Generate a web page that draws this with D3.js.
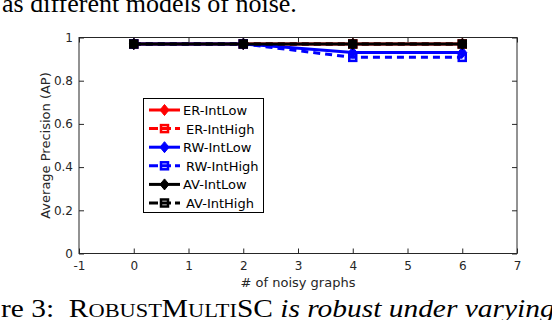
<!DOCTYPE html>
<html>
<head>
<meta charset="utf-8">
<script src="https://cdn.jsdelivr.net/npm/d3@7"></script>
<style>
  body { margin: 0; background: #fff; overflow: hidden; }
  svg { display: block; }
  .tick text { font-family: "DejaVu Sans", sans-serif; font-size: 12px; fill: #262626; }
  .tick line { stroke: #262626; }
</style>
</head>
<body>
<div class="chart"></div>
<script>
// data
var xVals = [0, 2, 4, 6];
var erLow  = [0.97, 0.97, 0.97, 0.97];
var erHigh = [0.97, 0.97, 0.97, 0.97];
var rwLow  = [0.97, 0.97, 0.93, 0.93];
var rwHigh = [0.97, 0.97, 0.908, 0.908];
var avLow  = [0.97, 0.97, 0.97, 0.97];
var avHigh = [0.97, 0.97, 0.97, 0.97];
var xTicks = [-1, 0, 1, 2, 3, 4, 5, 6, 7];
var yTicks = [0, 0.2, 0.4, 0.6, 0.8, 1];
var names  = ['ER-IntLow', 'ER-IntHigh', 'RW-IntLow', 'RW-IntHigh', 'AV-IntLow', 'AV-IntHigh'];

var series = [
  { name: names[0], vals: erLow,  color: '#ff0000', dash: null,  marker: 'diamond' },
  { name: names[1], vals: erHigh, color: '#ff0000', dash: '7,5', marker: 'square' },
  { name: names[2], vals: rwLow,  color: '#0000ff', dash: null,  marker: 'diamond' },
  { name: names[3], vals: rwHigh, color: '#0000ff', dash: '7,5', marker: 'square' },
  { name: names[4], vals: avLow,  color: '#000000', dash: null,  marker: 'diamond' },
  { name: names[5], vals: avHigh, color: '#000000', dash: '7,5', marker: 'square' }
];

var W = 552, H = 320;
var mL = 79, mR = 517, mT = 37.5, mB = 253.5;

var x = d3.scaleLinear().domain([-1, 7]).range([mL, mR]);
var y = d3.scaleLinear().domain([0, 1]).range([mB, mT]);

var svg = d3.select('.chart').append('svg')
    .attr('width', W)
    .attr('height', H);

// stretch a caption line horizontally so it spans the given width
function fitWidth(sel, x0, width) {
  var w = sel.node().getComputedTextLength();
  sel.attr('transform', 'translate(' + x0 + ',0) scale(' + (width / w) + ',1)');
}

// caption fragments around the figure
var capTop = svg.append('text')
    .attr('x', 0).attr('y', 11.5)
    .attr('font-family', '"Liberation Serif", "Times New Roman", serif')
    .attr('font-size', 25)
    .attr('fill', '#000')
    .text('as different models of noise.');
fitWidth(capTop, 2, 295);

var cap = svg.append('text')
    .attr('x', 0).attr('y', 317)
    .attr('font-family', '"Liberation Serif", "Times New Roman", serif')
    .attr('font-size', 25)
    .attr('fill', '#000');
cap.append('tspan').text('re 3:\u00a0\u00a0');
[['R', 25], ['OBUST', 19], ['M', 25], ['ULTI', 19], ['SC', 25]].forEach(function(p) {
  cap.append('tspan').attr('font-size', p[1]).text(p[0]);
});
cap.append('tspan').attr('font-style', 'italic').text(' is robust under varying');
fitWidth(cap, 1, 554);

// axes box
svg.append('rect')
    .attr('x', mL).attr('y', mT)
    .attr('width', mR - mL).attr('height', mB - mT)
    .attr('fill', '#fff')
    .attr('stroke', '#262626')
    .attr('stroke-width', 1);

var xAxis = d3.axisBottom(x).tickValues(xTicks).tickSizeInner(-5).tickSizeOuter(0).tickPadding(8)
    .tickFormat(function(d) { return String(d); });
var yAxis = d3.axisLeft(y).tickValues(yTicks).tickSizeInner(-5).tickSizeOuter(0).tickPadding(6)
    .tickFormat(function(d) { return d === 0 || d === 1 ? String(d) : d3.format('.1f')(d); });

svg.append('g')
    .attr('class', 'x axis')
    .attr('transform', 'translate(0,' + mB + ')')
    .call(xAxis)
    .call(function(g) { g.select('.domain').remove(); });

svg.append('g')
    .attr('class', 'y axis')
    .attr('transform', 'translate(' + mL + ',0)')
    .call(yAxis)
    .call(function(g) { g.select('.domain').remove(); });

// mirrored ticks on top and right, no labels
svg.append('g')
    .attr('transform', 'translate(0,' + mT + ')')
    .call(d3.axisTop(x).tickValues(xTicks).tickSizeInner(-5).tickSizeOuter(0).tickFormat(''))
    .call(function(g) { g.select('.domain').remove(); });

svg.append('g')
    .attr('transform', 'translate(' + mR + ',0)')
    .call(d3.axisRight(y).tickValues(yTicks).tickSizeInner(-5).tickSizeOuter(0).tickFormat(''))
    .call(function(g) { g.select('.domain').remove(); });

// axis labels
svg.append('text')
    .attr('x', (mL + mR) / 2).attr('y', 287)
    .attr('text-anchor', 'middle')
    .attr('font-family', '"DejaVu Sans", sans-serif')
    .attr('font-size', 13)
    .attr('fill', '#262626')
    .text('# of noisy graphs');

svg.append('text')
    .attr('transform', 'translate(50,' + (mT + mB) / 2 + ') rotate(-90)')
    .attr('text-anchor', 'middle')
    .attr('font-family', '"DejaVu Sans", sans-serif')
    .attr('font-size', 13)
    .attr('fill', '#262626')
    .text('Average Precision (AP)');

function drawMarker(g, type, cx, cy, color) {
  if (type === 'diamond') {
    g.append('path')
        .attr('d', 'M' + cx + ',' + (cy - 5.5) + 'L' + (cx + 4.5) + ',' + cy + 'L' + cx + ',' + (cy + 5.5) + 'L' + (cx - 4.5) + ',' + cy + 'Z')
        .attr('fill', color)
        .attr('stroke', color)
        .attr('stroke-width', 1);
  } else {
    g.append('rect')
        .attr('x', cx - 3.5).attr('y', cy - 3.5)
        .attr('width', 7).attr('height', 7)
        .attr('fill', 'none')
        .attr('stroke', color)
        .attr('stroke-width', 2.5);
  }
}

var line = d3.line()
    .x(function(d) { return x(d[0]); })
    .y(function(d) { return y(d[1]); });

var plot = svg.append('g');
series.forEach(function(s) {
  var pts = xVals.map(function(v, i) { return [v, s.vals[i]]; });
  plot.append('path')
      .datum(pts)
      .attr('d', line)
      .attr('fill', 'none')
      .attr('stroke', s.color)
      .attr('stroke-width', 3)
      .attr('stroke-dasharray', s.dash);
  pts.forEach(function(p) {
    drawMarker(plot, s.marker, x(p[0]), y(p[1]), s.color);
  });
});

// legend
var lg = svg.append('g');
lg.append('rect')
    .attr('x', 143.5).attr('y', 98.5)
    .attr('width', 120).attr('height', 114)
    .attr('fill', '#fff')
    .attr('stroke', '#000')
    .attr('stroke-width', 1);

series.forEach(function(s, i) {
  var cy = 110 + i * 18.6;
  lg.append('line')
      .attr('x1', 149).attr('x2', 180)
      .attr('y1', cy).attr('y2', cy)
      .attr('stroke', s.color)
      .attr('stroke-width', 3)
      .attr('stroke-dasharray', s.dash ? '9,4' : null);
  drawMarker(lg, s.marker, 164.5, cy, s.color);
  lg.append('text')
      .attr('x', s.dash ? 186 : 183).attr('y', cy + 5)
      .attr('font-family', '"DejaVu Sans", sans-serif')
      .attr('font-size', 13)
      .attr('fill', '#000')
      .text(s.name);
});
</script>
</body>
</html>
